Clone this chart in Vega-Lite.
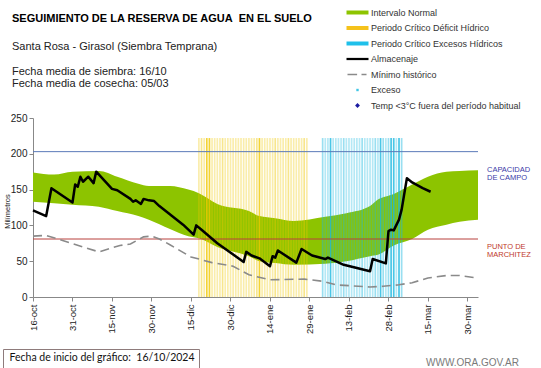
{
  "$schema": "https://vega.github.io/schema/vega-lite/v6.json",
  "width": 445,
  "height": 179,
  "autosize": {"type": "none"},
  "padding": {"left": 33, "top": 118, "right": 63, "bottom": 71},
  "background": "white",
  "config": {
    "view": {"stroke": null},
    "font": "Liberation Sans",
    "axis": {"labelOverlap": false, "labelSeparation": 0}
  },
  "title": {
    "text": "SEGUIMIENTO DE LA RESERVA DE AGUA\u00a0 EN EL SUELO",
    "subtitle": ["\u200b", "Santa Rosa - Girasol (Siembra Temprana)", "\u200b", "Fecha media de siembra: 16/10", "Fecha media de cosecha: 05/03"],
    "anchor": "start",
    "frame": "group",
    "dx": -21,
    "font": "Liberation Sans",
    "fontSize": 11,
    "fontWeight": "bold",
    "color": "#000000",
    "subtitleFont": "Liberation Sans",
    "subtitleFontSize": 11,
    "subtitleColor": "#222222",
    "subtitleLineHeight": 12.5,
    "subtitlePadding": 4,
    "offset": -81
  },
  "datasets": {
    "intervalo": [
      {"fecha": "2024-10-16", "inferior": 133, "superior": 174},
      {"fecha": "2024-10-24", "inferior": 131, "superior": 171},
      {"fecha": "2024-10-31", "inferior": 129, "superior": 175},
      {"fecha": "2024-11-10", "inferior": 126, "superior": 176},
      {"fecha": "2024-11-17", "inferior": 120, "superior": 168},
      {"fecha": "2024-11-25", "inferior": 113, "superior": 158},
      {"fecha": "2024-11-29", "inferior": 108, "superior": 155},
      {"fecha": "2024-12-07", "inferior": 95, "superior": 155},
      {"fecha": "2024-12-14", "inferior": 85, "superior": 150},
      {"fecha": "2024-12-18", "inferior": 82, "superior": 145},
      {"fecha": "2024-12-25", "inferior": 70, "superior": 130},
      {"fecha": "2025-01-06", "inferior": 57, "superior": 120},
      {"fecha": "2025-01-10", "inferior": 50, "superior": 113},
      {"fecha": "2025-01-16", "inferior": 47.5, "superior": 110},
      {"fecha": "2025-01-23", "inferior": 45, "superior": 106},
      {"fecha": "2025-02-04", "inferior": 46.5, "superior": 112},
      {"fecha": "2025-02-12", "inferior": 50, "superior": 117},
      {"fecha": "2025-02-21", "inferior": 57, "superior": 127},
      {"fecha": "2025-02-24", "inferior": 59, "superior": 136},
      {"fecha": "2025-03-02", "inferior": 72, "superior": 144},
      {"fecha": "2025-03-09", "inferior": 81, "superior": 157},
      {"fecha": "2025-03-15", "inferior": 94, "superior": 168},
      {"fecha": "2025-03-22", "inferior": 101, "superior": 175},
      {"fecha": "2025-03-27", "inferior": 105, "superior": 176},
      {"fecha": "2025-04-03", "inferior": 108, "superior": 177}
    ],
    "deficit": [
      {"fecha": "2024-12-18", "altura": 222, "tono": "claro"},
      {"fecha": "2024-12-19", "altura": 222, "tono": "medio"},
      {"fecha": "2024-12-20", "altura": 222, "tono": "claro"},
      {"fecha": "2024-12-21", "altura": 222, "tono": "oscuro"},
      {"fecha": "2024-12-22", "altura": 222, "tono": "oscuro"},
      {"fecha": "2024-12-23", "altura": 222, "tono": "claro"},
      {"fecha": "2024-12-24", "altura": 222, "tono": "claro"},
      {"fecha": "2024-12-25", "altura": 222, "tono": "claro"},
      {"fecha": "2024-12-26", "altura": 222, "tono": "claro"},
      {"fecha": "2024-12-27", "altura": 222, "tono": "medio"},
      {"fecha": "2024-12-28", "altura": 222, "tono": "claro"},
      {"fecha": "2024-12-29", "altura": 222, "tono": "claro"},
      {"fecha": "2024-12-30", "altura": 222, "tono": "claro"},
      {"fecha": "2024-12-31", "altura": 222, "tono": "claro"},
      {"fecha": "2025-01-01", "altura": 222, "tono": "claro"},
      {"fecha": "2025-01-02", "altura": 222, "tono": "claro"},
      {"fecha": "2025-01-03", "altura": 222, "tono": "claro"},
      {"fecha": "2025-01-04", "altura": 222, "tono": "claro"},
      {"fecha": "2025-01-05", "altura": 222, "tono": "claro"},
      {"fecha": "2025-01-06", "altura": 222, "tono": "claro"},
      {"fecha": "2025-01-07", "altura": 222, "tono": "claro"},
      {"fecha": "2025-01-08", "altura": 222, "tono": "claro"},
      {"fecha": "2025-01-09", "altura": 222, "tono": "medio"},
      {"fecha": "2025-01-10", "altura": 222, "tono": "oscuro"},
      {"fecha": "2025-01-11", "altura": 222, "tono": "claro"},
      {"fecha": "2025-01-12", "altura": 222, "tono": "claro"},
      {"fecha": "2025-01-13", "altura": 222, "tono": "claro"},
      {"fecha": "2025-01-14", "altura": 222, "tono": "claro"},
      {"fecha": "2025-01-15", "altura": 222, "tono": "claro"},
      {"fecha": "2025-01-16", "altura": 222, "tono": "medio"},
      {"fecha": "2025-01-17", "altura": 222, "tono": "claro"},
      {"fecha": "2025-01-18", "altura": 222, "tono": "claro"},
      {"fecha": "2025-01-19", "altura": 222, "tono": "claro"},
      {"fecha": "2025-01-20", "altura": 222, "tono": "claro"},
      {"fecha": "2025-01-21", "altura": 222, "tono": "medio"},
      {"fecha": "2025-01-22", "altura": 222, "tono": "claro"},
      {"fecha": "2025-01-23", "altura": 222, "tono": "claro"},
      {"fecha": "2025-01-24", "altura": 222, "tono": "claro"},
      {"fecha": "2025-01-25", "altura": 222, "tono": "claro"},
      {"fecha": "2025-01-26", "altura": 222, "tono": "claro"},
      {"fecha": "2025-01-27", "altura": 222, "tono": "medio"},
      {"fecha": "2025-01-28", "altura": 222, "tono": "claro"}
    ],
    "excesos": [
      {"fecha": "2025-02-03", "altura": 222, "tono": "medio"},
      {"fecha": "2025-02-04", "altura": 222, "tono": "claro"},
      {"fecha": "2025-02-05", "altura": 222, "tono": "claro"},
      {"fecha": "2025-02-06", "altura": 222, "tono": "oscuro"},
      {"fecha": "2025-02-07", "altura": 222, "tono": "claro"},
      {"fecha": "2025-02-08", "altura": 222, "tono": "claro"},
      {"fecha": "2025-02-09", "altura": 222, "tono": "claro"},
      {"fecha": "2025-02-10", "altura": 222, "tono": "claro"},
      {"fecha": "2025-02-11", "altura": 222, "tono": "medio"},
      {"fecha": "2025-02-12", "altura": 222, "tono": "claro"},
      {"fecha": "2025-02-13", "altura": 222, "tono": "claro"},
      {"fecha": "2025-02-14", "altura": 222, "tono": "claro"},
      {"fecha": "2025-02-15", "altura": 222, "tono": "claro"},
      {"fecha": "2025-02-16", "altura": 222, "tono": "claro"},
      {"fecha": "2025-02-17", "altura": 222, "tono": "claro"},
      {"fecha": "2025-02-18", "altura": 222, "tono": "medio"},
      {"fecha": "2025-02-19", "altura": 222, "tono": "claro"},
      {"fecha": "2025-02-20", "altura": 222, "tono": "claro"},
      {"fecha": "2025-02-21", "altura": 222, "tono": "claro"},
      {"fecha": "2025-02-22", "altura": 222, "tono": "claro"},
      {"fecha": "2025-02-23", "altura": 222, "tono": "medio"},
      {"fecha": "2025-02-24", "altura": 222, "tono": "claro"},
      {"fecha": "2025-02-25", "altura": 222, "tono": "oscuro"},
      {"fecha": "2025-02-26", "altura": 222, "tono": "medio"},
      {"fecha": "2025-02-27", "altura": 222, "tono": "claro"},
      {"fecha": "2025-02-28", "altura": 222, "tono": "medio"},
      {"fecha": "2025-03-01", "altura": 222, "tono": "oscuro"},
      {"fecha": "2025-03-02", "altura": 222, "tono": "oscuro"},
      {"fecha": "2025-03-03", "altura": 222, "tono": "claro"},
      {"fecha": "2025-03-04", "altura": 222, "tono": "oscuro"},
      {"fecha": "2025-03-05", "altura": 222, "tono": "medio"}
    ],
    "umbrales": [
      {"nombre": "CAPACIDAD\nDE  CAMPO", "valor": 203, "tipo": "cc"},
      {"nombre": "PUNTO  DE\nMARCHITEZ", "valor": 81, "tipo": "pm"}
    ],
    "minimo": [
      {"fecha": "2024-10-16", "valor": 85},
      {"fecha": "2024-10-21", "valor": 86},
      {"fecha": "2024-11-10", "valor": 63},
      {"fecha": "2024-11-18", "valor": 72},
      {"fecha": "2024-11-22", "valor": 74},
      {"fecha": "2024-11-27", "valor": 84},
      {"fecha": "2024-11-30", "valor": 85},
      {"fecha": "2024-12-03", "valor": 81},
      {"fecha": "2024-12-07", "valor": 73},
      {"fecha": "2024-12-15", "valor": 56},
      {"fecha": "2024-12-23", "valor": 48},
      {"fecha": "2024-12-31", "valor": 43},
      {"fecha": "2025-01-06", "valor": 31},
      {"fecha": "2025-01-14", "valor": 24},
      {"fecha": "2025-01-27", "valor": 25},
      {"fecha": "2025-02-03", "valor": 22},
      {"fecha": "2025-02-08", "valor": 17},
      {"fecha": "2025-02-21", "valor": 14},
      {"fecha": "2025-02-26", "valor": 15},
      {"fecha": "2025-03-04", "valor": 17},
      {"fecha": "2025-03-09", "valor": 20},
      {"fecha": "2025-03-15", "valor": 26.5},
      {"fecha": "2025-03-22", "valor": 30},
      {"fecha": "2025-03-27", "valor": 30},
      {"fecha": "2025-04-02", "valor": 27}
    ],
    "almacenaje": [
      {"fecha": "2024-10-16", "valor": 121},
      {"fecha": "2024-10-21", "valor": 113},
      {"fecha": "2024-10-23", "valor": 152},
      {"fecha": "2024-10-31", "valor": 132},
      {"fecha": "2024-11-01", "valor": 157},
      {"fecha": "2024-11-02", "valor": 154},
      {"fecha": "2024-11-03", "valor": 168},
      {"fecha": "2024-11-04", "valor": 161},
      {"fecha": "2024-11-06", "valor": 168},
      {"fecha": "2024-11-08", "valor": 159},
      {"fecha": "2024-11-09", "valor": 175},
      {"fecha": "2024-11-15", "valor": 151},
      {"fecha": "2024-11-17", "valor": 149},
      {"fecha": "2024-11-22", "valor": 137},
      {"fecha": "2024-11-23", "valor": 133},
      {"fecha": "2024-11-24", "valor": 135},
      {"fecha": "2024-11-26", "valor": 130},
      {"fecha": "2024-11-27", "valor": 137},
      {"fecha": "2024-11-29", "valor": 135},
      {"fecha": "2024-12-01", "valor": 134},
      {"fecha": "2024-12-03", "valor": 127},
      {"fecha": "2024-12-12", "valor": 101},
      {"fecha": "2024-12-16", "valor": 87},
      {"fecha": "2024-12-17", "valor": 100},
      {"fecha": "2024-12-19", "valor": 94},
      {"fecha": "2024-12-25", "valor": 75},
      {"fecha": "2025-01-04", "valor": 49},
      {"fecha": "2025-01-05", "valor": 63},
      {"fecha": "2025-01-07", "valor": 58},
      {"fecha": "2025-01-10", "valor": 54},
      {"fecha": "2025-01-14", "valor": 43},
      {"fecha": "2025-01-15", "valor": 57},
      {"fecha": "2025-01-16", "valor": 55},
      {"fecha": "2025-01-17", "valor": 65},
      {"fecha": "2025-01-24", "valor": 48},
      {"fecha": "2025-01-26", "valor": 67},
      {"fecha": "2025-01-30", "valor": 58},
      {"fecha": "2025-02-04", "valor": 53},
      {"fecha": "2025-02-05", "valor": 55},
      {"fecha": "2025-02-11", "valor": 45},
      {"fecha": "2025-02-21", "valor": 36},
      {"fecha": "2025-02-22", "valor": 53},
      {"fecha": "2025-02-27", "valor": 47},
      {"fecha": "2025-02-28", "valor": 92},
      {"fecha": "2025-03-01", "valor": 94},
      {"fecha": "2025-03-02", "valor": 93},
      {"fecha": "2025-03-04", "valor": 108},
      {"fecha": "2025-03-05", "valor": 122},
      {"fecha": "2025-03-07", "valor": 166},
      {"fecha": "2025-03-09", "valor": 160},
      {"fecha": "2025-03-13", "valor": 152},
      {"fecha": "2025-03-16", "valor": 147}
    ]
  },
  "layer": [
    {
      "data": {"name": "intervalo"},
      "mark": {"type": "area", "interpolate": "monotone", "opacity": 1},
      "encoding": {
        "x": {
          "field": "fecha", "type": "temporal", "title": "WWW.ORA.GOV.AR",
          "scale": {"type": "utc", "domain": [{"year": 2024, "month": 10, "date": 16, "utc": true}, {"year": 2025, "month": 4, "date": 3, "utc": true}]},
          "axis": {
            "values": [
              {"year": 2024, "month": 10, "date": 16, "utc": true},
              {"year": 2024, "month": 10, "date": 31, "utc": true},
              {"year": 2024, "month": 11, "date": 15, "utc": true},
              {"year": 2024, "month": 11, "date": 30, "utc": true},
              {"year": 2024, "month": 12, "date": 15, "utc": true},
              {"year": 2024, "month": 12, "date": 30, "utc": true},
              {"year": 2025, "month": 1, "date": 14, "utc": true},
              {"year": 2025, "month": 1, "date": 29, "utc": true},
              {"year": 2025, "month": 2, "date": 13, "utc": true},
              {"year": 2025, "month": 2, "date": 28, "utc": true},
              {"year": 2025, "month": 3, "date": 15, "utc": true},
              {"year": 2025, "month": 3, "date": 30, "utc": true}
            ],
            "labelExpr": "utcFormat(datum.value, '%d') + '-' + ['ene','feb','mar','abr','may','jun','jul','ago','sep','oct','nov','dic'][utcmonth(datum.value)]",
            "labelAngle": -90, "labelFont": "Liberation Sans", "labelFontSize": 9.5, "labelColor": "#222222",
            "labelPadding": 3, "labelOverlap": false, "labelFlush": false, "tickSize": 4, "tickColor": "#888888", "domainColor": "#888888", "grid": false,
            "titleX": 439, "titleY": 65, "titleAlign": "center", "titleBaseline": "middle", "titleColor": "#7a7a7a",
            "titleFont": "Liberation Sans", "titleFontSize": 10, "titleFontWeight": "normal"
          }
        },
        "y": {
          "field": "inferior", "type": "quantitative", "title": "Milímetros",
          "scale": {"domain": [0, 250], "nice": false},
          "axis": {
            "tickCount": 6, "labelOverlap": false, "labelFont": "Liberation Sans", "labelFontSize": 10, "labelColor": "#222222",
            "labelExpr": "format(datum.value, 'd')",
            "labelPadding": 2, "tickSize": 4, "tickColor": "#888888", "domainColor": "#888888", "grid": false,
            "titleFont": "Liberation Sans", "titleFontSize": 7.5, "titleFontWeight": "normal", "titleColor": "#222222",
            "titleX": -22, "titleY": 93, "titleAlign": "center"
          }
        },
        "y2": {"field": "superior"},
        "color": {
          "datum": "Intervalo Normal",
          "scale": {
            "domain": ["Intervalo Normal", "Periodo Crítico Déficit Hídrico", "Periodo Crítico Excesos Hídricos", "Almacenaje", "Mínimo histórico", "Exceso", "Temp <3°C fuera del período habitual"],
            "range": ["#8dc400", "#f5c21b", "#1fc0ea", "#000000", "#8a8a8a", "#3fc6e6", "#1a1aa0"]
          },
          "legend": {
            "orient": "none", "legendX": 320, "legendY": -110, "title": null, "padding": 0,
            "symbolSize": 64, "symbolStrokeWidth": 0, "labelOffset": 9, "labelFont": "Liberation Sans",
            "labelFontSize": 9, "labelColor": "#333333", "rowPadding": 5.5, "labelLimit": 300,
            "encoding": {
              "symbols": {
                "shape": {"value": {"expr": "datum.value === 'Almacenaje' ? 'M-2.75,-0.28H2.75V0.28H-2.75Z' : datum.value === 'Mínimo histórico' ? 'M-2.5,-0.2H-0.1V0.2H-2.5Z M1,-0.2H2.25V0.2H1Z' : datum.value === 'Exceso' ? 'M-0.3,-0.3H0.3V0.3H-0.3Z' : datum.value === 'Temp <3°C fuera del período habitual' ? 'M0,-0.6L0.6,0L0,0.6L-0.6,0Z' : 'M-2.75,-0.5H2.75V0.5H-2.75Z'"}},
                "fill": {"value": {"expr": "scale('color', datum.value)"}},
                "stroke": {"value": "transparent"},
                "opacity": {"value": 1}
              }
            }
          }
        }
      }
    },
    {
      "data": {"name": "deficit"},
      "mark": {"type": "rule", "strokeWidth": 1.7, "color": "#f0c800"},
      "encoding": {
        "x": {"field": "fecha", "type": "temporal", "title": "WWW.ORA.GOV.AR"},
        "y": {"field": "altura", "type": "quantitative", "title": "Milímetros", "scale": {"domain": [0, 250], "nice": false}},
        "y2": {"datum": 0},
        "strokeOpacity": {"field": "tono", "type": "nominal", "scale": {"type": "ordinal", "domain": ["claro", "medio", "oscuro"], "range": [0.33, 0.45, 0.8]}, "legend": null}
      }
    },
    {
      "data": {"name": "excesos"},
      "mark": {"type": "rule", "strokeWidth": 1.7, "color": "#1cb8e0"},
      "encoding": {
        "x": {"field": "fecha", "type": "temporal", "title": "WWW.ORA.GOV.AR"},
        "y": {"field": "altura", "type": "quantitative", "title": "Milímetros", "scale": {"domain": [0, 250], "nice": false}},
        "y2": {"datum": 0},
        "strokeOpacity": {"field": "tono", "type": "nominal", "scale": {"type": "ordinal", "domain": ["claro", "medio", "oscuro"], "range": [0.33, 0.45, 0.8]}, "legend": null}
      }
    },
    {
      "data": {"name": "umbrales"},
      "mark": {"type": "rule", "strokeWidth": 1},
      "encoding": {
        "y": {"field": "valor", "type": "quantitative", "title": "Milímetros", "scale": {"domain": [0, 250], "nice": false}},
        "stroke": {"field": "tipo", "type": "nominal", "scale": {"domain": ["cc", "pm"], "range": ["#5a7ab8", "#b8403c"]}, "legend": null}
      }
    },
    {
      "data": {"name": "umbrales"},
      "transform": [{"filter": "datum.tipo === 'cc'"}],
      "mark": {"type": "text", "align": "left", "baseline": "top", "dx": 9, "dy": 14, "font": "Liberation Sans", "fontSize": 7.5, "lineHeight": 8.5, "lineBreak": "\n", "color": "#3a3aa8"},
      "encoding": {
        "x": {"datum": {"year": 2025, "month": 4, "date": 3, "utc": true}, "type": "temporal"},
        "y": {"field": "valor", "type": "quantitative", "title": "Milímetros", "scale": {"domain": [0, 250], "nice": false}},
        "text": {"field": "nombre"}
      }
    },
    {
      "data": {"name": "umbrales"},
      "transform": [{"filter": "datum.tipo === 'pm'"}],
      "mark": {"type": "text", "align": "left", "baseline": "top", "dx": 9, "dy": 3.5, "font": "Liberation Sans", "fontSize": 7.5, "lineHeight": 8.5, "lineBreak": "\n", "color": "#c0392b"},
      "encoding": {
        "x": {"datum": {"year": 2025, "month": 4, "date": 3, "utc": true}, "type": "temporal"},
        "y": {"field": "valor", "type": "quantitative", "title": "Milímetros", "scale": {"domain": [0, 250], "nice": false}},
        "text": {"field": "nombre"}
      }
    },
    {
      "data": {"name": "minimo"},
      "mark": {"type": "line", "strokeDash": [9, 5], "strokeWidth": 1.6},
      "encoding": {
        "x": {"field": "fecha", "type": "temporal", "title": "WWW.ORA.GOV.AR"},
        "y": {"field": "valor", "type": "quantitative", "title": "Milímetros", "scale": {"domain": [0, 250], "nice": false}},
        "color": {"datum": "Mínimo histórico"}
      }
    },
    {
      "data": {"name": "almacenaje"},
      "mark": {"type": "line", "strokeWidth": 2.5, "strokeJoin": "round"},
      "encoding": {
        "x": {"field": "fecha", "type": "temporal", "title": "WWW.ORA.GOV.AR"},
        "y": {"field": "valor", "type": "quantitative", "title": "Milímetros", "scale": {"domain": [0, 250], "nice": false}},
        "color": {"datum": "Almacenaje"},
        "opacity": {
          "datum": "Fecha de inicio del gráfico:\u00a0 16/10/2024\u00a0\u00a0\u00a0\u00a0\u00a0\u00a0", "type": "nominal",
          "scale": {"type": "ordinal", "range": [1]},
          "legend": {
            "orient": "none", "legendX": -30, "legendY": 231, "title": null, "strokeColor": "#8e7b7b", "fillColor": "#ffffff",
            "padding": 4, "symbolSize": 1, "symbolStrokeWidth": 0, "symbolOpacity": 0, "labelOffset": -8,
            "labelFont": "Lato", "labelFontSize": 10.5, "labelColor": "#111111", "labelLimit": 400
          }
        }
      }
    }
  ]
}
